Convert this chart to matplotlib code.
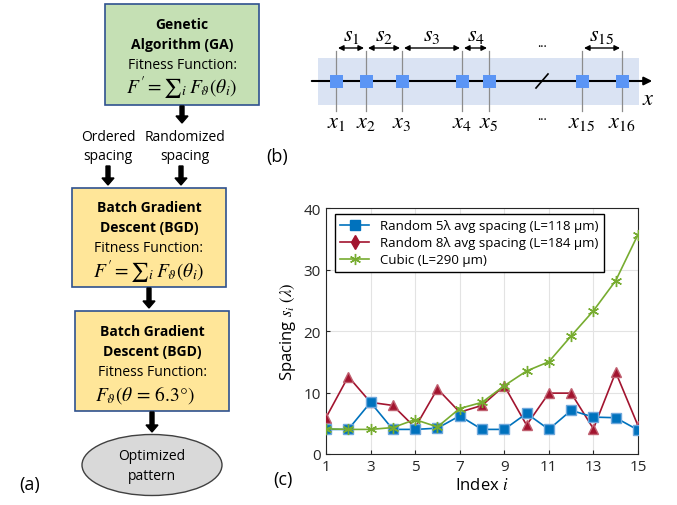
import numpy as np
import matplotlib.pyplot as plt
from matplotlib.patches import Rectangle, Ellipse
from matplotlib.lines import Line2D

plt.rcParams['font.family'] = ['Open Sans', 'DejaVu Sans']
plt.rcParams['mathtext.fontset'] = 'stix'

# ---------------- data for panel (c) ----------------
index = np.arange(1, 16)
random5 = [4.0, 4.0, 8.4, 4.0, 4.0, 4.2, 6.2, 4.0, 4.0, 6.6, 4.0, 7.1, 6.0, 5.9, 3.9]
random8 = [5.9, 12.6, 8.4, 7.9, 4.3, 10.6, 6.8, 7.9, 11.1, 4.7, 9.9, 9.9, 4.1, 13.3, 4.6]
cubic = [4.1, 4.0, 4.0, 4.3, 5.6, 4.4, 7.4, 8.4, 11.1, 13.5, 15.0, 19.2, 23.3, 28.2, 35.7]
labels = ["Random 5\u03bb avg spacing (L=118 \u03bcm)",
          "Random 8\u03bb avg spacing (L=184 \u03bcm)",
          "Cubic (L=290 \u03bcm)"]

# ---------------- panel (b) sketch contents ----------------
node_names = ["x_1", "x_2", "x_3", "x_4", "x_5", "x_{15}", "x_{16}"]
gap_names = ["s_1", "s_2", "s_3", "s_4", "s_{15}"]
gap_pairs = [(0, 1), (1, 2), (2, 3), (3, 4), (5, 6)]

fig = plt.figure(figsize=(6.77, 5.06), dpi=100)

# overlay in pixel coordinates for the sketches
bg = fig.add_axes([0, 0, 1, 1])
bg.set_xlim(0, 677)
bg.set_ylim(506, 0)
bg.axis('off')

edge = '#2F528F'

def box(x0, y0, x1, y1, fc):
    bg.add_patch(Rectangle((x0, y0), x1 - x0, y1 - y0, fc=fc, ec=edge, lw=1.2))

def down_arrow(x, y0, y1):
    bg.arrow(x, y0, 0, y1 - y0, width=4, head_width=12, head_length=7,
             length_includes_head=True, color='black')

formula = r"$F' = {\sum}_i\, F_\vartheta(\theta_i)$"

# ---- panel (a) ----
box(105, 5, 259, 106, '#C5E0B4')
bg.text(182, 25, "Genetic", ha='center', va='center', fontsize=10, fontweight='bold')
bg.text(182, 45, "Algorithm (GA)", ha='center', va='center', fontsize=10, fontweight='bold')
bg.text(182, 65, "Fitness Function:", ha='center', va='center', fontsize=10)
bg.text(182, 88, formula, ha='center', va='center', fontsize=14)
down_arrow(182, 107, 124)

bg.text(108, 137, "Ordered", ha='center', va='center', fontsize=10)
bg.text(108, 156, "spacing", ha='center', va='center', fontsize=10)
bg.text(185, 137, "Randomized", ha='center', va='center', fontsize=10)
bg.text(185, 156, "spacing", ha='center', va='center', fontsize=10)
down_arrow(108, 167, 186)
down_arrow(181, 167, 186)

box(72, 189, 226, 288, '#FFE699')
bg.text(149, 208, "Batch Gradient", ha='center', va='center', fontsize=10, fontweight='bold')
bg.text(149, 228, "Descent (BGD)", ha='center', va='center', fontsize=10, fontweight='bold')
bg.text(149, 248, "Fitness Function:", ha='center', va='center', fontsize=10)
bg.text(149, 272, formula, ha='center', va='center', fontsize=14)
down_arrow(149, 289, 309)

box(75, 312, 229, 412, '#FFE699')
bg.text(152, 332, "Batch Gradient", ha='center', va='center', fontsize=10, fontweight='bold')
bg.text(152, 352, "Descent (BGD)", ha='center', va='center', fontsize=10, fontweight='bold')
bg.text(152, 372, "Fitness Function:", ha='center', va='center', fontsize=10)
bg.text(145, 395, r"$F_\vartheta(\theta\, =\, 6.3°)$", ha='center', va='center', fontsize=14)
down_arrow(152, 413, 433)

bg.add_patch(Ellipse((152, 466), 140, 61, fc='#D9D9D9', ec='#404040', lw=1))
bg.text(152, 457, "Optimized", ha='center', va='center', fontsize=10)
bg.text(152, 477, "pattern", ha='center', va='center', fontsize=10)
bg.text(30, 485, "(a)", ha='center', va='center', fontsize=13)

# ---- panel (b) ----
xs = [336, 366, 402, 462, 489, 582, 622]
bg.add_patch(Rectangle((318, 59), 321, 47, fc='#DAE3F3', ec='none'))
bg.annotate('', xy=(655, 82), xytext=(309, 82),
            arrowprops=dict(arrowstyle='-|>', color='black', lw=1.5, mutation_scale=12))
for x, name in zip(xs, node_names):
    bg.plot([x, x], [52, 112], color='#8c8c8c', lw=0.9)
    bg.add_patch(Rectangle((x - 6.5, 75.5), 13, 13, fc='#5B95F5', ec='none', zorder=3))
    bg.text(x, 122, "$" + name + "$", ha='center', va='center', fontsize=16)
for (i, j), name in zip(gap_pairs, gap_names):
    bg.annotate('', xy=(xs[j] - 2, 49), xytext=(xs[i] + 2, 49),
                arrowprops=dict(arrowstyle='<|-|>', color='black', lw=1, mutation_scale=8,
                                shrinkA=0, shrinkB=0))
    bg.text((xs[i] + xs[j]) / 2, 35, "$" + name + "$", ha='center', va='center', fontsize=16)
bg.plot([536, 548], [89, 75], color='black', lw=1.2)
bg.text(542, 43, "...", ha='center', va='center', fontsize=9)
bg.text(542, 116, "...", ha='center', va='center', fontsize=9)
bg.text(648, 99, "$x$", ha='center', va='center', fontsize=16)
bg.text(277, 157, "(b)", ha='center', va='center', fontsize=13)
bg.text(283, 480, "(c)", ha='center', va='center', fontsize=13)

# ---- panel (c) ----
ax = fig.add_axes([0.4815, 0.1008, 0.4609, 0.486])
blue, red, green = '#0072BD', '#A2142F', '#77AC30'
ax.plot(index, random5, '-s', color=blue, mec='#6FA8DC', ms=7.5, lw=1.2, zorder=4)
ax.plot(index, random8, '-^', color=red, mec='#C06070', ms=7.5, lw=1.2, zorder=3)
ax.plot(index, cubic, '-', marker=(6, 2, 0), color=green, ms=8, mew=1, lw=1.2, zorder=5)
ax.set_xlim(1, 15)
ax.set_ylim(0, 40)
ax.set_xticks(np.arange(1, 16, 2))
ax.set_yticks(np.arange(0, 41, 10))
ax.grid(color='#e3e3e3', lw=0.8)
ax.set_axisbelow(True)
ax.tick_params(direction='in', length=3, labelsize=11, colors='#262626')
for sp in ax.spines.values():
    sp.set_color('#262626')
    sp.set_linewidth(0.8)
ax.set_xlabel("Index $i$", fontsize=12, labelpad=2)
ax.set_ylabel(r"Spacing $s_i\ (\lambda)$", fontsize=12, labelpad=4)

handles = [Line2D([], [], color=blue, marker='s', ms=7.5, lw=1.2),
           Line2D([], [], color=red, marker='d', ms=7.5, lw=1.2),
           Line2D([], [], color=green, marker=(6, 2, 0), ms=8, mew=1, lw=1.2)]
leg = ax.legend(handles, labels, loc='upper left', bbox_to_anchor=(0.495, 0.575),
                bbox_transform=fig.transFigure, borderaxespad=0, fontsize=9.5,
                fancybox=False, framealpha=1, edgecolor='black', handlelength=2.2,
                labelspacing=0.3, borderpad=0.4)
leg.get_frame().set_linewidth(1)
leg.set_zorder(10)

fig.savefig("out.png", dpi=100)
